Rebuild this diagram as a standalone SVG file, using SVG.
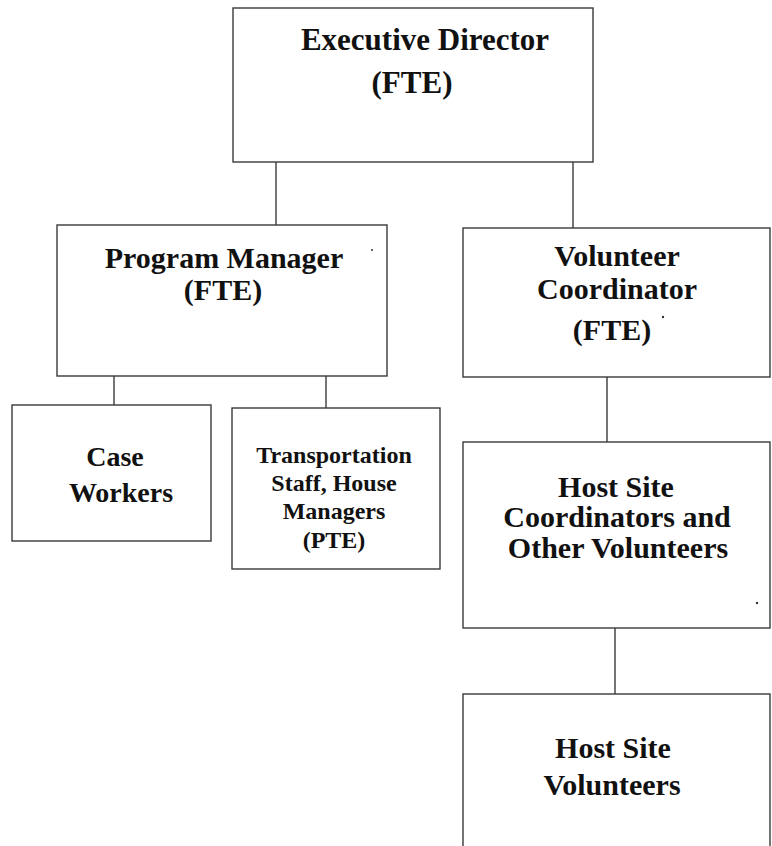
<svg xmlns="http://www.w3.org/2000/svg" width="772" height="846" viewBox="0 0 772 846">
<style>
.box{fill:#ffffff;stroke:#3a3a3a;stroke-width:1.4}
.ln{stroke:#3a3a3a;stroke-width:1.4;fill:none}
.t{font-family:"Liberation Serif","Times New Roman",serif;font-weight:bold;fill:#111;text-anchor:middle}
.xl{font-size:31px}
.l{font-size:30px}
.m{font-size:28px}
.s{font-size:24px}
.dot{fill:#333}
</style>
<rect x="0" y="0" width="772" height="846" fill="#ffffff"/>
<g id="connectors">
<line class="ln" x1="276" y1="162" x2="276" y2="225"/>
<line class="ln" x1="573" y1="162" x2="573" y2="228"/>
<line class="ln" x1="114" y1="376" x2="114" y2="405"/>
<line class="ln" x1="326" y1="376" x2="326" y2="408"/>
<line class="ln" x1="607" y1="377" x2="607" y2="442"/>
<line class="ln" x1="615" y1="628" x2="615" y2="694"/>
</g>
<g id="executive-director">
<rect class="box" x="233" y="8" width="360" height="154"/>
<text class="t xl" x="425" y="50">Executive Director</text>
<text class="t xl" x="412" y="93">(FTE)</text>
</g>
<g id="program-manager">
<rect class="box" x="57" y="225" width="330" height="151"/>
<text class="t l" x="224" y="268">Program Manager</text>
<text class="t l" x="223" y="300">(FTE)</text>
</g>
<g id="volunteer-coordinator">
<rect class="box" x="463" y="228" width="307" height="149"/>
<text class="t l" x="617" y="266">Volunteer</text>
<text class="t l" x="617" y="299">Coordinator</text>
<text class="t l" x="612" y="340">(FTE)</text>
</g>
<g id="case-workers">
<rect class="box" x="12" y="405" width="199" height="136"/>
<text class="t m" x="115" y="466">Case</text>
<text class="t m" x="121" y="502">Workers</text>
</g>
<g id="transportation-staff">
<rect class="box" x="232" y="408" width="208" height="161"/>
<text class="t s" x="334" y="463">Transportation</text>
<text class="t s" x="334" y="491">Staff, House</text>
<text class="t s" x="334" y="519">Managers</text>
<text class="t s" x="334" y="548">(PTE)</text>
</g>
<g id="host-site-coordinators">
<rect class="box" x="463" y="442" width="307" height="186"/>
<text class="t l" x="616" y="497">Host Site</text>
<text class="t l" x="617" y="527">Coordinators and</text>
<text class="t l" x="618" y="558">Other Volunteers</text>
</g>
<g id="host-site-volunteers">
<rect class="box" x="463" y="694" width="307" height="160"/>
<text class="t l" x="613" y="758">Host Site</text>
<text class="t l" x="612" y="795">Volunteers</text>
</g>
<circle class="dot" cx="372" cy="250" r="1"/>
<circle class="dot" cx="663" cy="317" r="1.2"/>
<circle class="dot" cx="757" cy="603" r="1.2"/>
</svg>
